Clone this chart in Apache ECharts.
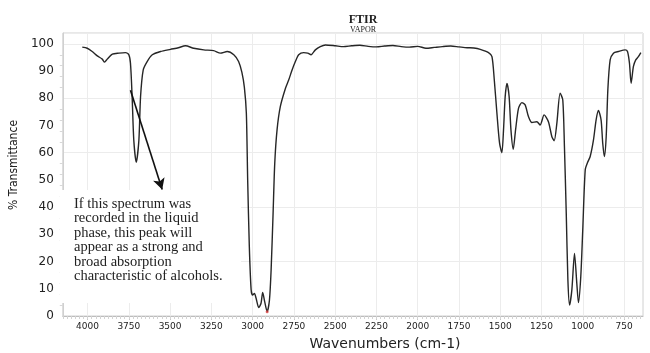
<!DOCTYPE html>
<html>
<head>
<meta charset="utf-8">
<title>FTIR vapor</title>
<script src="https://cdn.jsdelivr.net/npm/echarts@6/dist/echarts.min.js"></script>
<style>
  html, body { margin: 0; padding: 0; background: #fff; }
  #main { width: 650px; height: 353px; }
</style>
</head>
<body>
<div id="main"></div>
<script>
// spectrum (cm-1, % transmittance)
var wavenumber = [4032, 4002, 3972, 3941, 3911, 3897, 3881, 3850, 3810, 3770, 3750, 3740, 3730, 3720, 3705, 3689, 3679, 3663, 3639, 3608,
  3558, 3498, 3450, 3407, 3357, 3296, 3236, 3195, 3154, 3114, 3085, 3065, 3050, 3038, 3030, 3020, 3009, 3000, 2989, 2979,
  2963, 2949, 2939, 2927, 2912, 2898, 2888, 2876, 2866, 2852, 2832, 2801, 2781, 2761, 2741, 2721, 2691, 2666, 2646, 2620,
  2590, 2559, 2499, 2450, 2400, 2350, 2300, 2250, 2200, 2150, 2100, 2050, 2000, 1950, 1900, 1850, 1800, 1750, 1700, 1660,
  1621, 1571, 1550, 1536, 1520, 1504, 1490, 1480, 1470, 1459, 1446, 1435, 1421, 1407, 1389, 1369, 1349, 1329, 1308, 1278,
  1258, 1234, 1208, 1187, 1173, 1157, 1137, 1121, 1111, 1100, 1090, 1080, 1066, 1050, 1036, 1026, 1012, 1000, 985, 971,
  955, 935, 919, 905, 889, 879, 869, 858, 848, 834, 814, 784, 743, 729, 717, 707, 693, 679, 663, 648];
var transmittance = [98.8, 98.4, 97.2, 95.6, 94.4, 93.3, 94.4, 96.2, 96.6, 96.8, 96.0, 92.9, 80.6, 64.7, 56.5, 64.7, 80.6, 90.4, 93.5, 96.0,
  97.2, 98.0, 98.6, 99.3, 98.4, 97.8, 97.5, 96.6, 97.2, 96.0, 93.5, 89.5, 84.0, 74.5, 50.0, 25.5, 9.6, 7.7, 8.3, 6.5,
  3.1, 4.7, 8.7, 5.3, 1.6, 5.9, 16.9, 37.8, 56.1, 68.4, 77.0, 83.7, 86.8, 90.4, 93.5, 96.0, 96.8, 96.6, 96.0, 97.8,
  99.0, 99.6, 99.3, 99.0, 99.3, 99.5, 99.1, 98.9, 99.2, 99.4, 99.0, 98.8, 99.1, 98.4, 98.7, 99.0, 99.2, 98.9, 98.6, 98.5,
  98.0, 96.8, 95.3, 86.8, 74.5, 63.5, 60.0, 68.4, 80.6, 85.5, 80.6, 68.4, 61.3, 68.4, 76.4, 78.4, 77.6, 73.3, 71.1, 71.4,
  70.2, 73.9, 71.4, 65.9, 64.4, 70.8, 81.9, 79.4, 62.3, 37.8, 13.2, 4.0, 9.6, 23.0, 12.0, 4.9, 14.4, 31.6, 53.7, 56.4,
  58.6, 64.7, 72.1, 75.5, 72.1, 63.5, 58.6, 65.9, 83.1, 94.1, 96.6, 97.2, 97.8, 97.2, 92.9, 85.5, 91.7, 94.1, 95.3, 96.8];

var xTicks = [4000, 3750, 3500, 3250, 3000, 2750, 2500, 2250, 2000, 1750, 1500, 1250, 1000, 750];
var yTicks = [0, 10, 20, 30, 40, 50, 60, 70, 80, 90, 100];
var lowestPoint = [2912, 1.6];

// arrow from the O-H peak down to the note (data coords)
var arrowFrom = [3740, 83];
var arrowTo = [3548, 46.5];
var noteLines = [
  'If this spectrum was',
  'recorded in the liquid',
  'phase, this peak will',
  'appear as a strong and',
  'broad absorption',
  'characteristic of alcohols.'
];

var xMinor = [];
for (var w = 650; w <= 4150; w += 25) xMinor.push(w);

var points = wavenumber.map(function (w, i) { return [w, transmittance[i]]; });

var myChart = echarts.init(document.getElementById('main'));
var option = {
  backgroundColor: '#fff',
  animation: false,
  title: [{
    text: 'FTIR',
    subtext: 'VAPOR',
    left: 358,
    top: 9,
    textAlign: 'center',
    itemGap: 0,
    textStyle: { fontFamily: 'Liberation Serif', fontSize: 12, fontWeight: 'bold', color: '#222' },
    subtextStyle: { fontFamily: 'Liberation Serif', fontSize: 8, color: '#222' }
  }, {
    text: 'Wavenumbers (cm-1)',
    left: 380,
    top: 332,
    textAlign: 'center',
    textStyle: { fontFamily: 'DejaVu Sans', fontSize: 14, fontWeight: 'normal', color: '#222' }
  }],
  grid: { left: 62, right: 7, top: 33, bottom: 37, show: true, borderColor: '#d0d0d0', borderWidth: 1 },
  xAxis: [{
    type: 'value',
    inverse: true,
    min: 635,
    max: 4150,
    axisLine: { show: true, lineStyle: { color: '#bdbdbd' } },
    axisTick: { show: true, customValues: xTicks, length: 4, lineStyle: { color: '#c8c8c8' } },
    axisLabel: {
      customValues: xTicks,
      margin: 6,
      fontFamily: 'DejaVu Sans',
      fontSize: 9,
      color: '#222',
      formatter: function (v) { return String(v); }
    },
    splitLine: { show: true, lineStyle: { color: '#ececec' } }
  }, {
    // only for the small ticks under the axis
    type: 'value',
    inverse: true,
    min: 635,
    max: 4150,
    position: 'bottom',
    axisLine: { show: false },
    axisTick: { show: true, customValues: xMinor, length: 3, lineStyle: { color: '#d3d3d3' } },
    axisLabel: { show: false },
    splitLine: { show: false }
  }],
  yAxis: {
    type: 'value',
    min: 0,
    max: 104,
    name: '% Transmittance',
    nameLocation: 'middle',
    nameGap: 38,
    nameTextStyle: {
      fontFamily: '"Liberation Sans Narrow", "DejaVu Sans Condensed", "Liberation Sans"',
      fontSize: 12,
      color: '#222',
      padding: [0, 0, 0, 19]
    },
    axisLine: { show: true, lineStyle: { color: '#d0d0d0' } },
    axisTick: { show: false },
    minorTick: { show: true, splitNumber: 5, length: 3, lineStyle: { color: '#d8d8d8' } },
    axisLabel: { customValues: yTicks, margin: 9, fontFamily: 'DejaVu Sans', fontSize: 12, color: '#222' },
    splitLine: { show: true, lineStyle: { color: '#ececec' } }
  },
  graphic: [{
    type: 'rect',
    z: 50,
    shape: { x: 60, y: 190, width: 181, height: 113 },
    style: { fill: '#fff' }
  }, {
    type: 'text',
    z: 51,
    x: 74,
    y: 197,
    style: {
      text: noteLines.join('\n'),
      font: '14.5px "Liberation Serif"',
      fill: '#222',
      lineHeight: 14.4,
      verticalAlign: 'top'
    }
  }],
  series: [{
    type: 'line',
    data: points,
    showSymbol: false,
    smooth: 0.25,
    z: 3,
    lineStyle: { color: '#262626', width: 1.4 },
    markLine: {
      silent: true,
      symbol: ['none', 'arrow'],
      symbolSize: [9, 11],
      label: { show: false },
      lineStyle: { color: '#111', width: 1.6, type: 'solid' },
      data: [[{ coord: arrowFrom }, { coord: arrowTo }]]
    }
  }, {
    type: 'scatter',
    data: [lowestPoint],
    symbolSize: 3,
    z: 4,
    itemStyle: { color: '#d94040' }
  }]
};
myChart.setOption(option);
</script>
</body>
</html>
